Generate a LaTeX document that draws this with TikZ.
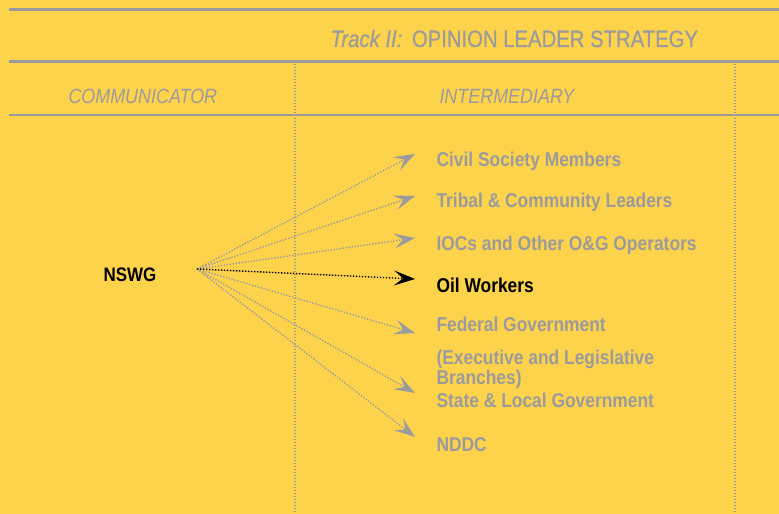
\documentclass[tikz,border=0pt]{standalone}
\usepackage{fontspec}
\setmainfont{Liberation Sans}
\newfontfamily\condfont[FakeStretch=0.87]{Liberation Sans}
\newfontfamily\titlefont[FakeStretch=0.86,FakeBold=0.6]{Liberation Sans}
\usetikzlibrary{arrows.meta}

\definecolor{bgyellow}{RGB}{254,211,76}
\definecolor{leadgray}{RGB}{155,155,158}

\tikzset{
  rule/.style={leadgray,line width=3bp},
  colsep/.style={leadgray,line width=1.2bp,dash pattern=on 1.2bp off 1.8bp},
  fan/.style={->,leadgray,line width=1.4bp,dash pattern=on 1.4bp off 1.6bp},
  fanon/.style={fan,black},
  aud/.style={anchor=base west,inner sep=0pt,leadgray,font=\condfont\fontsize{20bp}{20bp}\selectfont\bfseries},
  head/.style={anchor=base west,inner sep=0pt,leadgray,font=\condfont\fontsize{20.6bp}{20bp}\selectfont\itshape},
}

\begin{document}
\begin{tikzpicture}[x=1bp,y=1bp,>={Stealth[length=21bp,width=15bp,inset=9bp]}]

\pgfsetlinewidth{1bp}

\useasboundingbox (0,0) rectangle (779,514);
\fill [bgyellow] (0,0) rectangle (779,514);

% Rules
\draw [rule] (9,504.5) -- (779,504.5);
\draw [rule] (9,452) -- (779,452);
\draw [rule,line width=2.2bp] (9,399) -- (779,399);
\draw [colsep] (295,450) -- (295,0);
\draw [colsep] (735,450) -- (735,0);

% Title
\node [anchor=base west,inner sep=0pt,leadgray] (title) at (330,467)
  {\titlefont\fontsize{23.6bp}{23bp}\selectfont\textit{Track II:}\hspace{4bp} OPINION LEADER STRATEGY};

% Column heads
\node [head] (comm) at (68,410) {COMMUNICATOR};
\node [head] (inter) at (439,410) {INTERMEDIARY};

% Node: NSWG
\node [aud,black,font=\condfont\fontsize{19.5bp}{20bp}\selectfont\bfseries] (nswg) at (103,232) {NSWG};
\coordinate (src) at (197,245);

% Audiences
\node [aud] (civil) at (436,347) {Civil Society Members};
\node [aud] (tribal) at (436,306) {Tribal \& Community Leaders};
\node [aud] (iocs) at (436,263) {IOCs and Other O\&G Operators};
\node [aud,black] (oil) at (436,221) {Oil Workers};
\node [aud] (fed) at (436,182) {Federal Government};
\node [aud] (exec) at (436,149) {(Executive and Legislative};
\node [aud] (branch) at (436,129) {Branches)};
\node [aud] (state) at (436,106) {State \& Local Government};
\node [aud] (nddc) at (436,62) {NDDC};

\coordinate (tcivil) at (415,360);
\coordinate (ttribal) at (415,318);
\coordinate (tiocs) at (415,276);
\coordinate (toil) at (415,235);
\coordinate (tfed) at (415,181);
\coordinate (tstate) at (415,121);
\coordinate (tnddc) at (415,77);

% Edge: NSWG -> audiences
\foreach \t in {tcivil,ttribal,tiocs,tfed,tstate,tnddc}
  \draw [fan] (src) -- (\t);

% Edge: NSWG -> Oil Workers
\draw [fanon] (src) -- (toil);

\end{tikzpicture}
\end{document}
